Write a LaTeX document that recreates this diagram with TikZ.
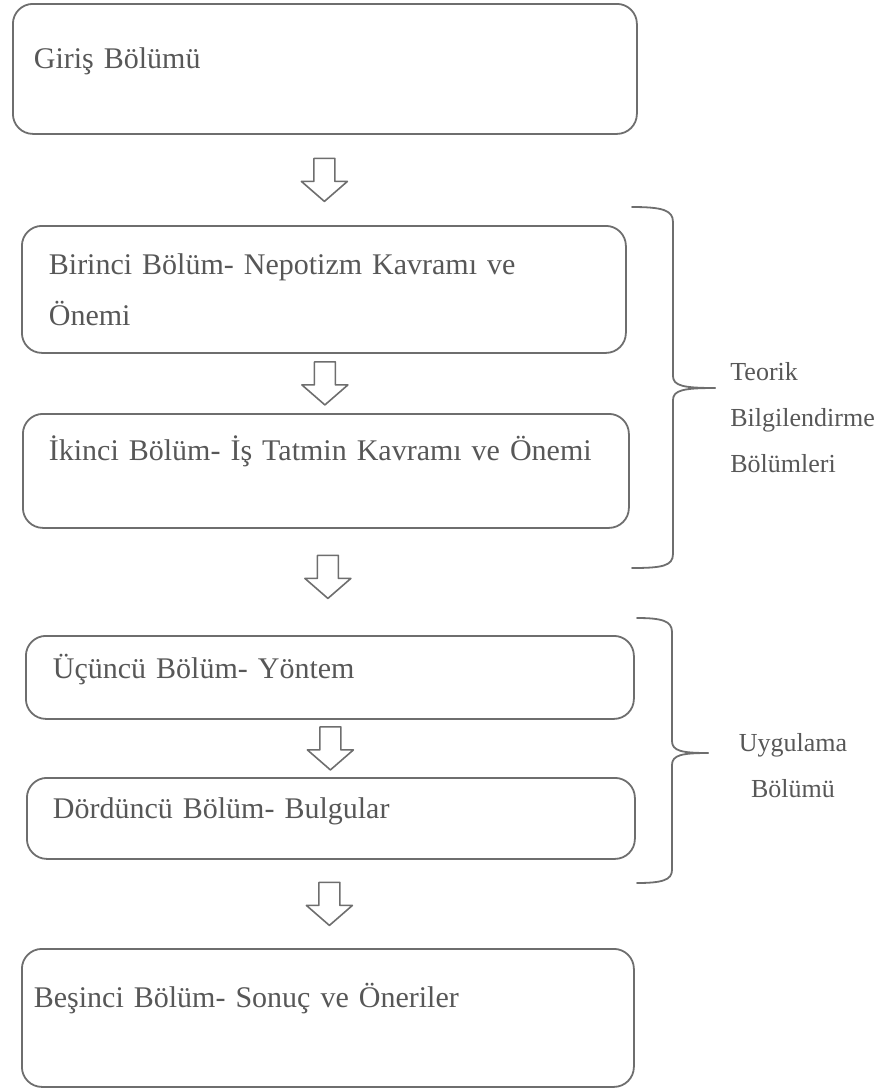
\documentclass[tikz,border=0pt]{standalone}
\usepackage{fontspec}
\setmainfont{Liberation Serif}
\usepackage{tikz}
\definecolor{ink}{HTML}{575757}
\definecolor{frame}{HTML}{6E6E6E}
\usetikzlibrary{
  calc
}
\tikzset{
  every picture/.style={line cap=round, line join=round},
  chapter/.style={
    draw=frame,
    rounded corners=10pt,
    line width=0.9pt,
    anchor=north west,
    align=left,
    inner ysep=0pt,
    font=\fontsize{15}{25.5}\selectfont,
    text=ink
  },
  oneline/.style={text height=10pt, text depth=#1},
  sidenote/.style={font=\fontsize{13}{23}\selectfont, text=ink, inner sep=0pt},
  bracket/.style={draw=frame, line width=0.9pt},
  downarrow/.pic={
    \draw[frame, line width=0.8pt, fill=white]
      (-10.5,-21.5) -- (10.5,-21.5) -- (10.5,1.5) -- (23,1.5)
      -- (0,21.5) -- (-23,1.5) -- (-10.5,1.5) -- cycle;
  }
}
\begin{document}
\begin{tikzpicture}[x=0.5pt, y=-0.5pt]
  \useasboundingbox (0,0) rectangle (889,1089);

  % Chapter boxes
  \node[chapter, minimum width=312pt, minimum height=65pt, inner xsep=10.5pt,
    text width=291pt, oneline=10pt] (giris) at (12,3) {Giriş Bölümü};
  \node[chapter, minimum width=302pt, minimum height=63.5pt, inner xsep=13.5pt,
    text width=275pt] (birinci) at (21,225) {Birinci Bölüm- Nepotizm Kavramı ve\\Önemi};
  \node[chapter, minimum width=303pt, minimum height=57pt, inner xsep=13pt,
    text width=277pt, oneline=20pt] (ikinci) at (22,413) {\mbox{İkinci Bölüm- İş Tatmin Kavramı ve Önemi}};
  \node[chapter, minimum width=304pt, minimum height=41.5pt, inner xsep=13.5pt,
    text width=277pt, oneline=8.5pt] (ucuncu) at (25,635) {Üçüncü Bölüm- Yöntem};
  \node[chapter, minimum width=304pt, minimum height=40.5pt, inner xsep=13pt,
    text width=278pt, oneline=9.5pt] (dorduncu) at (26,777) {Dördüncü Bölüm- Bulgular};
  \node[chapter, minimum width=306pt, minimum height=69pt, inner xsep=6pt,
    text width=294pt, oneline=20pt] (besinci) at (21,948) {Beşinci Bölüm- Sonuç ve Öneriler};

  % Hollow arrows between the boxes
  \pic at ($(giris.south)!0.5!(birinci.north)$) {downarrow};
  \pic at ($(birinci.south)!0.5!(ikinci.north)$) {downarrow};
  \pic at ($(ikinci.south)!0.5!(ucuncu.north)+(0,-5)$) {downarrow};
  \pic at ($(ucuncu.south)!0.5!(dorduncu.north)$) {downarrow};
  \pic at ($(dorduncu.south)!0.5!(besinci.north)$) {downarrow};

  % Braces
  \draw[bracket] (632,207) .. controls (662,207) and (673,210) .. (673,222)
    -- (673,376) .. controls (673,386) and (684,388) .. (715,388);
  \draw[bracket] (715,388) .. controls (684,388) and (673,390) .. (673,400)
    -- (673,554) .. controls (673,566) and (662,568) .. (632,568);
  \draw[bracket] (637,618) .. controls (662,618) and (672,621) .. (672,632)
    -- (672,741) .. controls (672,751) and (682,753) .. (708,753);
  \draw[bracket] (708,753) .. controls (682,753) and (672,755) .. (672,765)
    -- (672,870) .. controls (672,880) and (662,883) .. (637,883);

  % Labels
  \node[sidenote, anchor=base west, align=left] (teorik) at (730,472)
    {Teorik\\Bilgilendirme\\Bölümleri};
  \node[sidenote, anchor=base, align=center] (uygulama) at (793,797)
    {Uygulama\\Bölümü};
\end{tikzpicture}
\end{document}
